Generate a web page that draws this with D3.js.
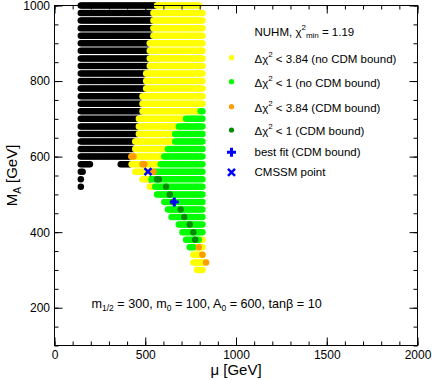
<!DOCTYPE html>
<html lang="en">
<head>
<meta charset="UTF-8">
<title>NUHM mu - M_A plane</title>
<script src="https://d3js.org/d3.v7.min.js"></script>
<style>
  body { margin: 0; background: #fff; }
  svg text { font-family: "Liberation Sans", Arial, Helvetica, sans-serif; fill: #000; }
</style>
</head>
<body>
<div id="chart"></div>
<script>

// scan grid step in mu (GeV)
var muStep = 10

// scan rows as [M_A, mu from, mu to]
var blackSegs = [
    [1000, 145, 555],
    [980, 145, 535], [960, 145, 535], [940, 145, 535], [920, 145, 535],
    [900, 145, 515], [880, 145, 515], [860, 145, 515], [840, 145, 515],
    [820, 145, 495], [800, 145, 495], [780, 145, 495],
    [760, 145, 475], [740, 145, 475], [720, 145, 475],
    [700, 145, 455], [680, 145, 455], [660, 145, 455],
    [640, 145, 435], [620, 145, 435],
    [600, 145, 415],
    [580, 145, 195], [580, 365, 415],
    [560, 145, 155],
    [540, 145, 145], [540, 525, 525],
    [520, 145, 145]
]
var yellowSegs = [
    [1000, 565, 795],
    [980, 545, 815], [960, 545, 815], [940, 545, 815], [920, 545, 815],
    [900, 525, 815], [880, 525, 815], [860, 525, 815], [840, 525, 815],
    [820, 505, 815], [800, 505, 815], [780, 505, 815],
    [760, 485, 815], [740, 485, 815], [720, 485, 795],
    [700, 465, 715], [680, 465, 675], [660, 465, 655],
    [640, 445, 655], [620, 445, 615],
    [600, 425, 595],
    [580, 425, 575],
    [560, 445, 545],
    [540, 485, 515],
    [520, 525, 545],
    [380, 805, 815],
    [360, 775, 815],
    [340, 765, 815],
    [320, 765, 825],
    [300, 785, 815]
]
var greenSegs = [
    [720, 805, 815], [700, 725, 815], [680, 685, 815], [660, 665, 815],
    [640, 665, 815], [620, 625, 815], [600, 605, 815], [580, 585, 815],
    [560, 555, 815], [540, 535, 815], [520, 555, 815], [500, 565, 815],
    [480, 605, 815], [460, 625, 815], [440, 645, 815], [420, 685, 815],
    [400, 705, 815], [380, 725, 795], [360, 745, 765]
]
// single points as [mu, M_A]
var orangePts = [[425, 600], [435, 600], [485, 580], [495, 580], [535, 560], [545, 560],
    [795, 360], [815, 340], [835, 320]]
var darkGreenPts = [[565, 540], [575, 540], [615, 520], [635, 500], [655, 480], [695, 460],
    [715, 440], [745, 420], [765, 400], [775, 380]]
var bestFit = [660, 480]
var cmssmPoint = [515, 560]

var xTicks = [0, 500, 1000, 1500, 2000]
var yTicks = [200, 400, 600, 800, 1000]

var legendLabels = ["< 3.84 (no CDM bound)", "< 1 (no CDM bound)", "< 3.84 (CDM bound)", "< 1 (CDM bound)",
    "best fit (CDM bound)", "CMSSM point"]

var colors = {black: "#000000", yellow: "#ffff00", green: "#00ff00", orange: "#ff9c00", dark: "#008c00", blue: "#0000ff"}

var width = 432, height = 380
var pL = 54.5, pR = 417.5, pT = 5.5, pB = 345.5
var r = 3.25

var x = d3.scaleLinear().domain([0, 2000]).range([pL, pR])
var y = d3.scaleLinear().domain([100, 1000]).range([pB, pT])

var svg = d3.select("#chart").append("svg")
    .attr("width", width)
    .attr("height", height)

// expand a row segment into its scan points
function segPoints(segs) {
    var pts = []
    segs.forEach(function(s) {
        for (var mu = s[1]; mu <= s[2]; mu += muStep) pts.push([mu, s[0]])
    })
    return pts
}

function drawDots(pts, col) {
    svg.append("g").selectAll("circle")
        .data(pts)
        .enter().append("circle")
        .attr("cx", function(d) { return x(d[0]) })
        .attr("cy", function(d) { return y(d[1]) })
        .attr("r", r)
        .attr("fill", col)
}

drawDots(segPoints(blackSegs), colors.black)
drawDots(segPoints(yellowSegs), colors.yellow)
drawDots(segPoints(greenSegs), colors.green)
drawDots(orangePts, colors.orange)
drawDots(darkGreenPts, colors.dark)

// markers
var plusPath = "M-4.5,0H4.5M0,-4.5V4.5"
var crossPath = "M-3.5,-3.5L3.5,3.5M-3.5,3.5L3.5,-3.5"
svg.append("path")
    .attr("d", plusPath)
    .attr("transform", "translate(" + x(bestFit[0]) + "," + y(bestFit[1]) + ")")
    .attr("stroke", colors.blue).attr("stroke-width", 3).attr("fill", "none")
svg.append("path")
    .attr("d", crossPath)
    .attr("transform", "translate(" + x(cmssmPoint[0]) + "," + y(cmssmPoint[1]) + ")")
    .attr("stroke", colors.blue).attr("stroke-width", 2.5).attr("fill", "none")

// axes, ticks pointing inward on all four sides
function addAxis(axis, tr) {
    var g = svg.append("g").attr("transform", tr).call(axis)
    g.select(".domain").remove()
    g.selectAll("text").style("font-size", "12px").style("font-family", "Liberation Sans, Arial, sans-serif")
    return g
}
var xMinor = d3.range(0, 2001, 100)
var yMinor = d3.range(100, 1001, 50)

addAxis(d3.axisBottom(x).tickValues(xTicks).tickSize(-8).tickPadding(5).tickFormat(d3.format("d")), "translate(0," + pB + ")")
addAxis(d3.axisBottom(x).tickValues(xMinor).tickSize(-4).tickFormat(""), "translate(0," + pB + ")")
addAxis(d3.axisTop(x).tickValues(xTicks).tickSize(-8).tickFormat(""), "translate(0," + pT + ")")
addAxis(d3.axisTop(x).tickValues(xMinor).tickSize(-4).tickFormat(""), "translate(0," + pT + ")")
addAxis(d3.axisLeft(y).tickValues(yTicks).tickSize(-8).tickPadding(4.5).tickFormat(d3.format("d")), "translate(" + pL + ",0)")
addAxis(d3.axisLeft(y).tickValues(yMinor).tickSize(-4).tickFormat(""), "translate(" + pL + ",0)")
addAxis(d3.axisRight(y).tickValues(yTicks).tickSize(-8).tickFormat(""), "translate(" + pR + ",0)")
addAxis(d3.axisRight(y).tickValues(yMinor).tickSize(-4).tickFormat(""), "translate(" + pR + ",0)")

svg.append("rect")
    .attr("x", pL).attr("y", pT)
    .attr("width", pR - pL).attr("height", pB - pT)
    .attr("fill", "none").attr("stroke", "#000").attr("stroke-width", 1)

// axis titles
svg.append("text")
    .attr("x", (pL + pR) / 2).attr("y", 375)
    .attr("text-anchor", "middle")
    .style("font-size", "15px")
    .text("\u03bc [GeV]")

var yt = svg.append("text")
    .attr("transform", "translate(16.5," + ((pT + pB) / 2) + ") rotate(-90)")
    .attr("text-anchor", "middle")
    .style("font-size", "15px")
yt.append("tspan").text("M")
yt.append("tspan").attr("dy", 4).style("font-size", "10px").text("A")
yt.append("tspan").attr("dy", -4).text(" [GeV]")

// legend
var lx = 231.5, tx = 254.5
var legendY = [57.7, 81.7, 106.7, 130, 152.3, 172.3]
var legendSym = [colors.yellow, colors.green, colors.orange, colors.dark]

var title = svg.append("text").attr("x", tx).attr("y", 36).style("font-size", "11.5px")
title.append("tspan").text("NUHM, \u03c7")
title.append("tspan").attr("dy", -6).style("font-size", "8px").text("2")
title.append("tspan").attr("dy", 8).style("font-size", "8px").text("min")
title.append("tspan").attr("dy", -2).text(" = 1.19")

legendSym.forEach(function(c, i) {
    svg.append("circle").attr("cx", lx).attr("cy", legendY[i]).attr("r", 2.6).attr("fill", c)
    var t = svg.append("text").attr("x", tx).attr("y", legendY[i] + 5).style("font-size", "11.5px")
    t.append("tspan").text("\u0394\u03c7")
    t.append("tspan").attr("dy", -6).style("font-size", "8px").text("2")
    t.append("tspan").attr("dy", 6).text(" " + legendLabels[i])
})
svg.append("path").attr("d", plusPath)
    .attr("transform", "translate(" + lx + "," + legendY[4] + ")")
    .attr("stroke", colors.blue).attr("stroke-width", 3).attr("fill", "none")
svg.append("path").attr("d", crossPath)
    .attr("transform", "translate(" + lx + "," + legendY[5] + ")")
    .attr("stroke", colors.blue).attr("stroke-width", 2.5).attr("fill", "none")
svg.append("text").attr("x", tx).attr("y", legendY[4] + 4).style("font-size", "11.5px").text(legendLabels[4])
svg.append("text").attr("x", tx).attr("y", legendY[5] + 4).style("font-size", "11.5px").text(legendLabels[5])

// parameter annotation
var ann = svg.append("text").attr("x", 91.5).attr("y", 308).style("font-size", "12.6px")
var annParts = [["m", 0], ["1/2", 1], [" = 300, m", 0], ["0", 1], [" = 100, A", 0], ["0", 1], [" = 600, tan\u03b2 = 10", 0]]
var prevSub = 0
annParts.forEach(function(p) {
    var ts = ann.append("tspan").text(p[0])
    if (p[1]) ts.style("font-size", "8.5px")
    if (p[1] && !prevSub) ts.attr("dy", 3)
    if (!p[1] && prevSub) ts.attr("dy", -3)
    prevSub = p[1]
})

</script>
</body>
</html>
